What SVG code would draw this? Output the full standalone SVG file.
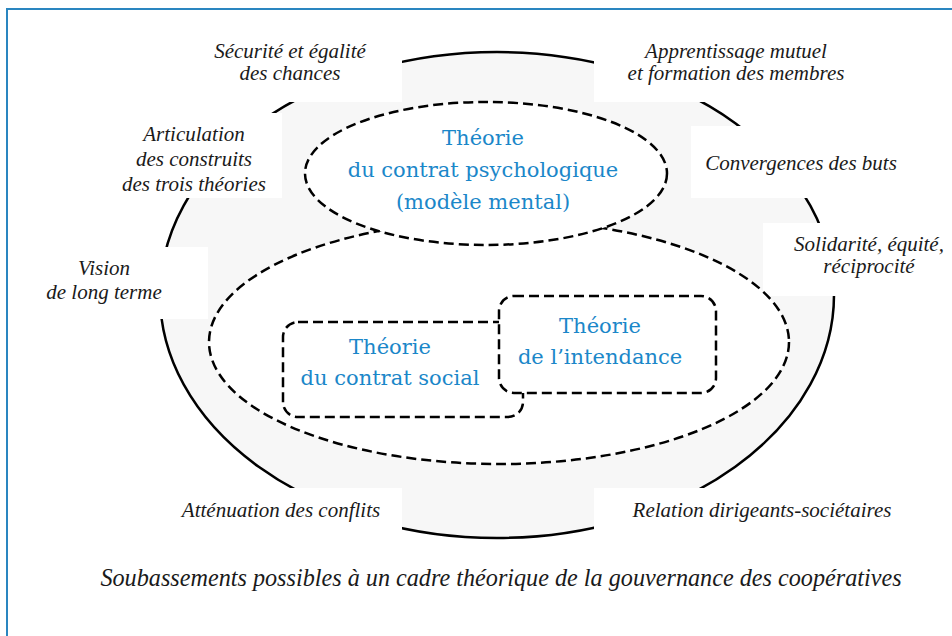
<svg xmlns="http://www.w3.org/2000/svg" width="952" height="636" viewBox="0 0 952 636">
<style>
.lbl{font-family:'Liberation Serif',serif;font-style:italic;font-size:21px;fill:#1a1a1a;text-anchor:middle}
.th{font-family:'DejaVu Serif',serif;font-size:21px;fill:#1b87c9;text-anchor:middle}
.dash{fill:#fff;stroke:#000;stroke-width:2.5;stroke-dasharray:10 5}
.box{fill:#fff}
</style>
<rect x="0" y="0" width="952" height="636" fill="#fff"/>
<path d="M7,636 V9 H952" fill="none" stroke="#2a86c0" stroke-width="2"/>
<g id="outer">
<ellipse cx="497" cy="295" rx="337" ry="243" fill="#f7f7f7" stroke="#000" stroke-width="2.5"/>
</g>
<g id="label-boxes">
<rect class="box" x="150" y="20" width="252" height="82"/>
<rect class="box" x="594" y="20" width="300" height="82"/>
<rect class="box" x="90" y="113" width="192" height="85"/>
<rect class="box" x="691" y="126" width="240" height="72"/>
<rect class="box" x="30" y="247" width="178" height="72"/>
<rect class="box" x="763" y="223" width="189" height="73"/>
<rect class="box" x="150" y="488" width="252" height="55"/>
<rect class="box" x="594" y="488" width="320" height="55"/>
</g>
<g id="social-zone">
<ellipse class="dash" cx="499" cy="342" rx="290" ry="122"/>
</g>
<g id="contrat-psychologique">
<ellipse class="dash" cx="486" cy="173.5" rx="181" ry="71.5"/>
<text class="th" x="483" y="145" style="font-family:'DejaVu Serif',serif">Théorie</text>
<text class="th" x="483" y="177" style="font-family:'DejaVu Serif',serif">du contrat psychologique</text>
<text class="th" x="483" y="209" style="font-family:'DejaVu Serif',serif">(modèle mental)</text>
</g>
<g id="contrat-social">
<rect class="dash" x="283" y="322" width="240" height="95" rx="15"/>
<text class="th" x="390" y="354" style="font-family:'DejaVu Serif',serif">Théorie</text>
<text class="th" x="390" y="385" style="font-family:'DejaVu Serif',serif">du contrat social</text>
</g>
<g id="intendance">
<rect class="dash" x="499" y="296" width="217" height="97" rx="15"/>
<text class="th" x="600" y="333" style="font-family:'DejaVu Serif',serif">Théorie</text>
<text class="th" x="600" y="364" style="font-family:'DejaVu Serif',serif">de l’intendance</text>
</g>
<g id="labels">
<text class="lbl" x="290" y="58" style="font-family:'Liberation Serif',serif">Sécurité et égalité</text>
<text class="lbl" x="290" y="80" style="font-family:'Liberation Serif',serif">des chances</text>
<text class="lbl" x="736" y="58" style="font-family:'Liberation Serif',serif">Apprentissage mutuel</text>
<text class="lbl" x="736" y="80" style="font-family:'Liberation Serif',serif">et formation des membres</text>
<text class="lbl" x="194" y="141" style="font-family:'Liberation Serif',serif">Articulation</text>
<text class="lbl" x="194" y="166" style="font-family:'Liberation Serif',serif">des construits</text>
<text class="lbl" x="194" y="191" style="font-family:'Liberation Serif',serif">des trois théories</text>
<text class="lbl" x="801" y="170" style="font-family:'Liberation Serif',serif">Convergences des buts</text>
<text class="lbl" x="869" y="251" style="font-family:'Liberation Serif',serif">Solidarité, équité,</text>
<text class="lbl" x="869" y="273" style="font-family:'Liberation Serif',serif">réciprocité</text>
<text class="lbl" x="104" y="275" style="font-family:'Liberation Serif',serif">Vision</text>
<text class="lbl" x="104" y="299" style="font-family:'Liberation Serif',serif">de long terme</text>
<text class="lbl" x="281" y="517" style="font-family:'Liberation Serif',serif">Atténuation des conflits</text>
<text class="lbl" x="762" y="517" style="font-family:'Liberation Serif',serif">Relation dirigeants-sociétaires</text>
<text class="lbl" x="501" y="586" style="font-family:'Liberation Serif',serif;font-size:24.2px">Soubassements possibles à un cadre théorique de la gouvernance des coopératives</text>
</g>
</svg>
